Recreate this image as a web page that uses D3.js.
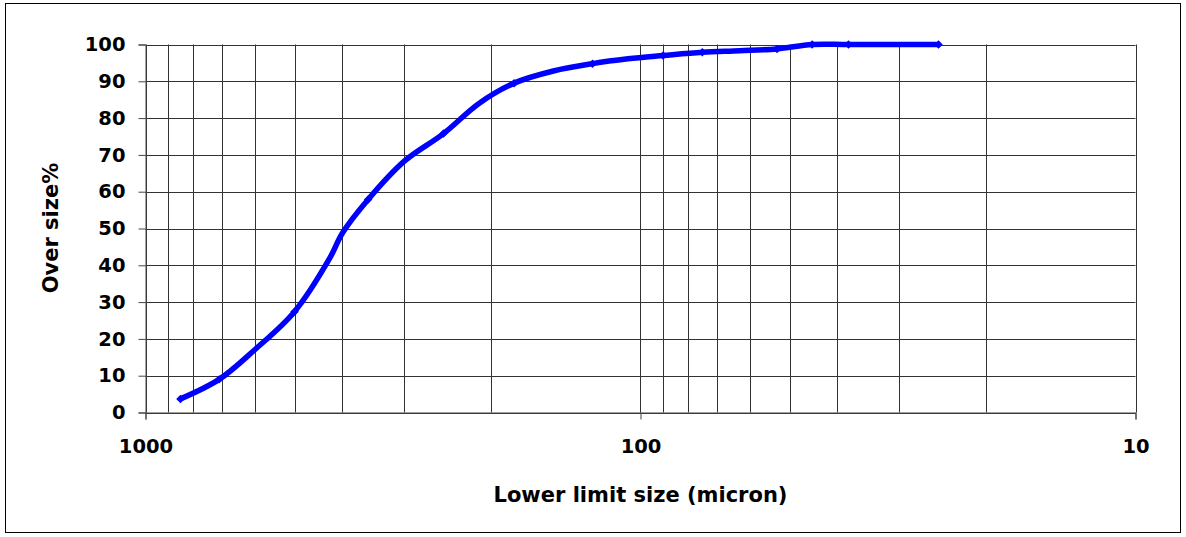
<!DOCTYPE html>
<html>
<head>
<meta charset="utf-8">
<script src="https://cdn.jsdelivr.net/npm/d3@7"></script>
<style>
  html, body { margin: 0; padding: 0; background: #fff; }
  svg { display: block; }
  text { font-family: "DejaVu Sans", sans-serif; font-weight: bold; fill: #000; }
</style>
</head>
<body>
<svg id="chart" width="1186" height="537"></svg>
<script>
// ---- data ----
const sizes    = [850, 710, 600, 500, 425, 400, 355, 300, 250, 212, 180, 150, 125, 106, 90, 75, 63, 53, 45, 38, 25];
const oversize = [3.7, 9.0, 17.2, 27.4, 41.8, 48.8, 57.9, 68.3, 75.8, 84.0, 89.5, 92.8, 94.8, 96.1, 97.0, 97.9, 98.3, 98.8, 100, 100, 100];
const markedSizes = [850, 710, 500, 355, 250, 180, 125, 90, 75, 53, 45, 38, 25];
const xTickValues = [1000, 100, 10];
const xGridValues = [1000, 900, 800, 700, 600, 500, 400, 300, 200, 100, 90, 80, 70, 60, 50, 40, 30, 20, 10];
const yTickValues = [0, 10, 20, 30, 40, 50, 60, 70, 80, 90, 100];
const xTitle = "Lower limit size (micron)";
const yTitle = "Over size%";

const svg = d3.select("#chart");

// outer border
svg.append("rect").attr("x", 5.5).attr("y", 3.5).attr("width", 1175).attr("height", 529)
  .attr("fill", "none").attr("stroke", "#000").attr("stroke-width", 1);

const x = d3.scaleLog().domain([1000, 10]).range([145.5, 1135.5]);
const y = d3.scaleLinear().domain([0, 100]).range([412.5, 44.5]);

// grid
const grid = svg.append("g");
grid.selectAll("line.v").data(xGridValues).join("line")
  .attr("class", "v")
  .attr("x1", d => Math.round(x(d)) + 0.5).attr("x2", d => Math.round(x(d)) + 0.5)
  .attr("y1", y(100)).attr("y2", y(0))
  .attr("stroke", "#333")
  .attr("stroke-width", 1);
grid.selectAll("line.h").data(yTickValues).join("line")
  .attr("class", "h")
  .attr("x1", x(1000)).attr("x2", x(10))
  .attr("y1", d => Math.round(y(d)) + 0.5).attr("y2", d => Math.round(y(d)) + 0.5)
  .attr("stroke", "#333").attr("stroke-width", 1);

// axes
const yAxis = svg.append("g").attr("transform", `translate(${x(1000)},0)`)
  .call(d3.axisLeft(y).tickValues(yTickValues).tickSize(7).tickPadding(13).tickFormat(d3.format("d")));
const xAxis = svg.append("g").attr("transform", `translate(0,${y(0)})`)
  .call(d3.axisBottom(x).tickValues(xTickValues).tickSize(7).tickPadding(20).tickFormat(d3.format("d")));
[yAxis, xAxis].forEach(a => {
  a.select(".domain").attr("stroke", "#444");
  a.selectAll(".tick line").attr("stroke", "#444");
  a.selectAll("text").attr("font-size", 19.5).attr("font-family", "'DejaVu Sans', sans-serif")
    .attr("font-weight", "bold").attr("fill", "#000");
});

// line
const pts = sizes.map((s, i) => [s, oversize[i]]);
const line = d3.line().x(d => x(d[0])).y(d => y(d[1])).curve(d3.curveCatmullRom.alpha(0.5));
svg.append("path").datum(pts).attr("d", line)
  .attr("fill", "none").attr("stroke", "#0000ff").attr("stroke-width", 5.5)
  .attr("stroke-linejoin", "round");

// markers
const marked = pts.filter(p => markedSizes.includes(p[0]));
svg.selectAll("path.mk").data(marked).join("path")
  .attr("class", "mk")
  .attr("d", d3.symbol(d3.symbolSquare, 36))
  .attr("transform", d => `translate(${x(d[0])},${y(d[1])}) rotate(45)`)
  .attr("fill", "#0000ff");

// titles
svg.append("text").attr("x", (x(1000) + x(10)) / 2).attr("y", 502)
  .attr("text-anchor", "middle").attr("font-size", 21).text(xTitle);
svg.append("text").attr("transform", `translate(58,228) rotate(-90)`)
  .attr("text-anchor", "middle").attr("font-size", 21).text(yTitle);
</script>
</body>
</html>
